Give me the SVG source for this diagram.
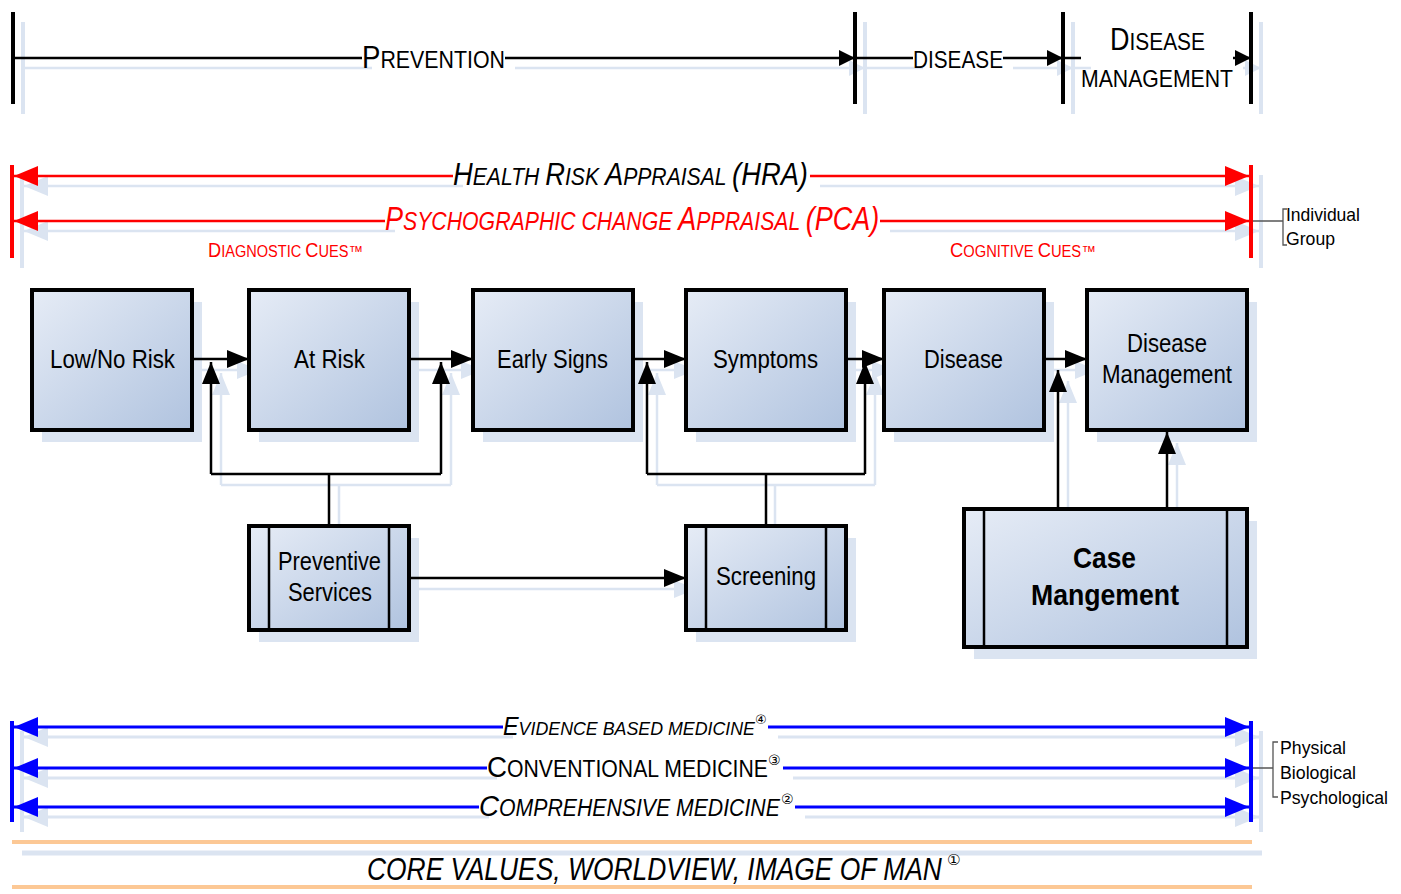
<svg xmlns="http://www.w3.org/2000/svg" width="1401" height="894" viewBox="0 0 1401 894">
<style>
.t{font-family:"Liberation Sans",Arial,sans-serif;fill:#000}
.it{font-style:italic}
.rt{fill:#ff0000}
.cd{font-family:"DejaVu Sans",sans-serif;font-style:italic;fill:#000}
.box{fill:url(#gb);stroke:#000;stroke-width:4}
.shb{fill:#dbe4f1;stroke:none}
.ln{stroke:#000;stroke-width:2.5;fill:none}
.bar{stroke:#000;stroke-width:4;fill:none}
.sh{stroke:#dbe4f1;fill:none}
.red{stroke:#ff0000;stroke-width:2.5;fill:none}
.blu{stroke:#0000ff;stroke-width:3;fill:none}
.brk{stroke:#555;stroke-width:1.3;fill:none}
</style>
<defs>
<linearGradient id="gb" x1="0" y1="0" x2="1" y2="1">
<stop offset="0" stop-color="#e6ecf6"/>
<stop offset="1" stop-color="#b0c3df"/>
</linearGradient>
<marker id="mk" viewBox="0 0 10 10" refX="10" refY="5" markerUnits="userSpaceOnUse" markerWidth="22" markerHeight="18" orient="auto" preserveAspectRatio="none"><path d="M0,0L10,5L0,10z" fill="#000"/></marker>
<marker id="mks" viewBox="0 0 10 10" refX="10" refY="5" markerUnits="userSpaceOnUse" markerWidth="22" markerHeight="18" orient="auto" preserveAspectRatio="none"><path d="M0,0L10,5L0,10z" fill="#dbe4f1"/></marker>
<marker id="mt" viewBox="0 0 10 10" refX="10" refY="5" markerUnits="userSpaceOnUse" markerWidth="16" markerHeight="16" orient="auto" preserveAspectRatio="none"><path d="M0,0L10,5L0,10z" fill="#000"/></marker>
<marker id="mts" viewBox="0 0 10 10" refX="10" refY="5" markerUnits="userSpaceOnUse" markerWidth="16" markerHeight="16" orient="auto" preserveAspectRatio="none"><path d="M0,0L10,5L0,10z" fill="#dbe4f1"/></marker>
<marker id="mr" viewBox="0 0 10 10" refX="10" refY="5" markerUnits="userSpaceOnUse" markerWidth="24" markerHeight="20" orient="auto" preserveAspectRatio="none"><path d="M0,0L10,5L0,10z" fill="#ff0000"/></marker>
<marker id="mbl" viewBox="0 0 10 10" refX="10" refY="5" markerUnits="userSpaceOnUse" markerWidth="24" markerHeight="20" orient="auto" preserveAspectRatio="none"><path d="M0,0L10,5L0,10z" fill="#0000ff"/></marker>
<marker id="mls" viewBox="0 0 10 10" refX="10" refY="5" markerUnits="userSpaceOnUse" markerWidth="24" markerHeight="20" orient="auto" preserveAspectRatio="none"><path d="M0,0L10,5L0,10z" fill="#dbe4f1"/></marker>
</defs>
<rect width="1401" height="894" fill="#fff"/>

<g id="shadows">
<path class="sh" stroke-width="4" d="M23,22V114M865,22V114M1073,22V114M1261,22V114"/>
<path class="sh" stroke-width="2.5" d="M23,68H372M865,68H923M1073,68H1091"/>
<path class="sh" stroke-width="2.5" marker-end="url(#mts)" d="M515,68H865"/>
<path class="sh" stroke-width="2.5" marker-end="url(#mts)" d="M1013,68H1073"/>
<path class="sh" stroke-width="2.5" marker-end="url(#mts)" d="M1243,68H1261"/>
<path class="sh" stroke-width="4" d="M22,175V268M1261,175V268M22,731V832M1261,731V832"/>
<path class="sh" stroke-width="2.5" marker-end="url(#mls)" d="M463,186H24"/>
<path class="sh" stroke-width="2.5" marker-end="url(#mls)" d="M820,186H1259"/>
<path class="sh" stroke-width="2.5" marker-end="url(#mls)" d="M395,231H24"/>
<path class="sh" stroke-width="2.5" marker-end="url(#mls)" d="M890,231H1259"/>
<path class="sh" stroke-width="3" marker-end="url(#mls)" d="M513,737H24"/>
<path class="sh" stroke-width="3" marker-end="url(#mls)" d="M778,737H1259"/>
<path class="sh" stroke-width="3" marker-end="url(#mls)" d="M497,778H24"/>
<path class="sh" stroke-width="3" marker-end="url(#mls)" d="M793,778H1259"/>
<path class="sh" stroke-width="3" marker-end="url(#mls)" d="M489,817H24"/>
<path class="sh" stroke-width="3" marker-end="url(#mls)" d="M805,817H1259"/>
<path class="sh" stroke-width="5" d="M22,853H1262"/>
<rect class="shb" x="42" y="302" width="160" height="140"/>
<rect class="shb" x="259" y="302" width="160" height="140"/>
<rect class="shb" x="483" y="302" width="160" height="140"/>
<rect class="shb" x="696" y="302" width="160" height="140"/>
<rect class="shb" x="894" y="302" width="160" height="140"/>
<rect class="shb" x="1097" y="302" width="160" height="140"/>
<rect class="shb" x="259" y="538" width="160" height="104"/>
<rect class="shb" x="696" y="538" width="160" height="104"/>
<rect class="shb" x="974" y="521" width="283" height="138"/>
<path class="sh" stroke-width="2.5" marker-end="url(#mks)" d="M202,370H259"/>
<path class="sh" stroke-width="2.5" marker-end="url(#mks)" d="M419,370H483"/>
<path class="sh" stroke-width="2.5" marker-end="url(#mks)" d="M643,370H696"/>
<path class="sh" stroke-width="2.5" marker-end="url(#mks)" d="M856,370H894"/>
<path class="sh" stroke-width="2.5" marker-end="url(#mks)" d="M1054,370H1097"/>
<path class="sh" stroke-width="2.5" marker-end="url(#mks)" d="M419,589H696"/>
<path class="sh" stroke-width="2.5" d="M339,537V485M221,485H451M775,537V485M657,485H875"/>
<path class="sh" stroke-width="2.5" marker-end="url(#mks)" d="M221,485V373"/>
<path class="sh" stroke-width="2.5" marker-end="url(#mks)" d="M451,485V373"/>
<path class="sh" stroke-width="2.5" marker-end="url(#mks)" d="M657,485V373"/>
<path class="sh" stroke-width="2.5" marker-end="url(#mks)" d="M875,485V373"/>
<path class="sh" stroke-width="2.5" marker-end="url(#mks)" d="M1068,520V381"/>
<path class="sh" stroke-width="2.5" marker-end="url(#mks)" d="M1177,520V443"/>
</g>

<g id="timeline-top">
<path class="bar" d="M13,12V104M855,12V104M1063,12V104M1251,12V104"/>
<path class="ln" d="M13,58H362M855,58H913M1063,58H1081"/>
<path class="ln" marker-end="url(#mt)" d="M505,58H855"/>
<path class="ln" marker-end="url(#mt)" d="M1003,58H1063"/>
<path class="ln" marker-end="url(#mt)" d="M1233,58H1251"/>
<text class="t" transform="translate(362,68) scale(0.89,1)"><tspan font-size="31">P</tspan><tspan font-size="24">REVENTION</tspan></text>
<text class="t" x="913" y="68" font-size="24" textLength="90" lengthAdjust="spacingAndGlyphs">DISEASE</text>
<text class="t" transform="translate(1110,50) scale(0.871,1)"><tspan font-size="31">D</tspan><tspan font-size="24">ISEASE</tspan></text>
<text class="t" x="1081" y="87" font-size="24" textLength="152" lengthAdjust="spacingAndGlyphs">MANAGEMENT</text>
</g>

<g id="appraisals">
<path d="M12,165V258M1251,165V258" stroke="#ff0000" stroke-width="4" fill="none"/>
<path class="red" marker-end="url(#mr)" d="M453,176H14"/>
<path class="red" marker-end="url(#mr)" d="M810,176H1249"/>
<path class="red" marker-end="url(#mr)" d="M385,221H14"/>
<path class="red" marker-end="url(#mr)" d="M880,221H1249"/>
<text class="t it" transform="translate(453,185) scale(0.8816,1)"><tspan font-size="31">H</tspan><tspan font-size="24">EALTH </tspan><tspan font-size="31">R</tspan><tspan font-size="24">ISK </tspan><tspan font-size="31">A</tspan><tspan font-size="24">PPRAISAL </tspan><tspan font-size="31">(HRA)</tspan></text>
<text class="t it rt" transform="translate(385,230) scale(0.818,1)"><tspan font-size="33">P</tspan><tspan font-size="26">SYCHOGRAPHIC CHANGE </tspan><tspan font-size="33">A</tspan><tspan font-size="26">PPRAISAL </tspan><tspan font-size="33">(PCA)</tspan></text>
<text class="t rt" transform="translate(208,257) scale(0.9105,1)"><tspan font-size="20">D</tspan><tspan font-size="16">IAGNOSTIC </tspan><tspan font-size="20">C</tspan><tspan font-size="16">UES™</tspan></text>
<text class="t rt" transform="translate(950,257) scale(0.92,1)"><tspan font-size="20">C</tspan><tspan font-size="16">OGNITIVE </tspan><tspan font-size="20">C</tspan><tspan font-size="16">UES™</tspan></text>
<path class="brk" d="M1253,221H1283M1287,209H1283V245H1287"/>
<text class="t" x="1286" y="221" font-size="19" textLength="74" lengthAdjust="spacingAndGlyphs">Individual</text>
<text class="t" x="1286" y="245" font-size="19" textLength="49" lengthAdjust="spacingAndGlyphs">Group</text>
</g>

<g id="connectors">
<path class="ln" marker-end="url(#mk)" d="M192,359H249"/>
<path class="ln" marker-end="url(#mk)" d="M409,359H473"/>
<path class="ln" marker-end="url(#mk)" d="M633,359H686"/>
<path class="ln" marker-end="url(#mk)" d="M846,359H884"/>
<path class="ln" marker-end="url(#mk)" d="M1044,359H1087"/>
<path class="ln" marker-end="url(#mk)" d="M409,578H686"/>
<path class="ln" d="M329,526V474M211,474H441M766,526V474M647,474H865"/>
<path class="ln" marker-end="url(#mk)" d="M211,474V362"/>
<path class="ln" marker-end="url(#mk)" d="M441,474V362"/>
<path class="ln" marker-end="url(#mk)" d="M647,474V362"/>
<path class="ln" marker-end="url(#mk)" d="M865,474V362"/>
<path class="ln" marker-end="url(#mk)" d="M1058,509V370"/>
<path class="ln" marker-end="url(#mk)" d="M1167,509V432"/>
</g>

<g id="node-lownorisk">
<rect class="box" x="32" y="290" width="160" height="140"/>
<text class="t" x="50" y="368" font-size="26" textLength="125" lengthAdjust="spacingAndGlyphs">Low/No Risk</text>
</g>
<g id="node-atrisk">
<rect class="box" x="249" y="290" width="160" height="140"/>
<text class="t" x="294" y="368" font-size="26" textLength="71" lengthAdjust="spacingAndGlyphs">At Risk</text>
</g>
<g id="node-earlysigns">
<rect class="box" x="473" y="290" width="160" height="140"/>
<text class="t" x="497" y="368" font-size="26" textLength="111" lengthAdjust="spacingAndGlyphs">Early Signs</text>
</g>
<g id="node-symptoms">
<rect class="box" x="686" y="290" width="160" height="140"/>
<text class="t" x="713" y="368" font-size="26" textLength="105" lengthAdjust="spacingAndGlyphs">Symptoms</text>
</g>
<g id="node-disease">
<rect class="box" x="884" y="290" width="160" height="140"/>
<text class="t" x="924" y="368" font-size="26" textLength="79" lengthAdjust="spacingAndGlyphs">Disease</text>
</g>
<g id="node-diseasemanagement">
<rect class="box" x="1087" y="290" width="160" height="140"/>
<text class="t" x="1127" y="352" font-size="26" textLength="80" lengthAdjust="spacingAndGlyphs">Disease</text>
<text class="t" x="1102" y="383" font-size="26" textLength="130" lengthAdjust="spacingAndGlyphs">Management</text>
</g>
<g id="node-preventive">
<rect class="box" x="249" y="526" width="160" height="104"/>
<path class="ln" stroke-width="3" d="M269,526V630M389,526V630"/>
<text class="t" x="278" y="570" font-size="26" textLength="103" lengthAdjust="spacingAndGlyphs">Preventive</text>
<text class="t" x="288" y="601" font-size="26" textLength="84" lengthAdjust="spacingAndGlyphs">Services</text>
</g>
<g id="node-screening">
<rect class="box" x="686" y="526" width="160" height="104"/>
<path class="ln" stroke-width="3" d="M706,526V630M826,526V630"/>
<text class="t" x="716" y="585" font-size="26" textLength="100" lengthAdjust="spacingAndGlyphs">Screening</text>
</g>
<g id="node-case">
<rect class="box" x="964" y="509" width="283" height="138"/>
<path class="ln" stroke-width="4" d="M984,509V647M1227,509V647"/>
<text class="t" x="1073" y="568" font-size="30" font-weight="bold" textLength="63" lengthAdjust="spacingAndGlyphs">Case</text>
<text class="t" x="1031" y="605" font-size="30" font-weight="bold" textLength="148" lengthAdjust="spacingAndGlyphs">Mangement</text>
</g>

<g id="medicine">
<path d="M12,721V822M1251,721V822" stroke="#0000ff" stroke-width="4" fill="none"/>
<path class="blu" marker-end="url(#mbl)" d="M503,727H14"/>
<path class="blu" marker-end="url(#mbl)" d="M768,727H1249"/>
<path class="blu" marker-end="url(#mbl)" d="M487,768H14"/>
<path class="blu" marker-end="url(#mbl)" d="M783,768H1249"/>
<path class="blu" marker-end="url(#mbl)" d="M479,807H14"/>
<path class="blu" marker-end="url(#mbl)" d="M795,807H1249"/>
<text class="t it" transform="translate(503,735) scale(0.937,1)"><tspan font-size="25">E</tspan><tspan font-size="19">VIDENCE BASED MEDICINE</tspan></text>
<text class="cd" x="755" y="724" font-size="13">④</text>
<text class="t" transform="translate(487,777) scale(0.923,1)"><tspan font-size="30">C</tspan><tspan font-size="23">ONVENTIONAL MEDICINE</tspan></text>
<text class="cd" x="768" y="765" font-size="14">③</text>
<text class="t it" transform="translate(479,816) scale(0.924,1)"><tspan font-size="30">C</tspan><tspan font-size="23">OMPREHENSIVE MEDICINE</tspan></text>
<text class="cd" x="781" y="804" font-size="14">②</text>
<path class="brk" d="M1253,768H1273M1278,742H1273V797H1278"/>
<text class="t" x="1280" y="754" font-size="19" textLength="66" lengthAdjust="spacingAndGlyphs">Physical</text>
<text class="t" x="1280" y="779" font-size="19" textLength="76" lengthAdjust="spacingAndGlyphs">Biological</text>
<text class="t" x="1280" y="804" font-size="19" textLength="108" lengthAdjust="spacingAndGlyphs">Psychological</text>
</g>

<g id="core">
<path d="M12,842H1252M12,887H1252" stroke="#fcc895" stroke-width="4" fill="none"/>
<text class="t it" font-size="32" transform="translate(367,880) scale(0.825,1)">CORE VALUES, WORLDVIEW, IMAGE OF MAN</text>
<text class="cd" x="947" y="865" font-size="15">①</text>
</g>
</svg>
